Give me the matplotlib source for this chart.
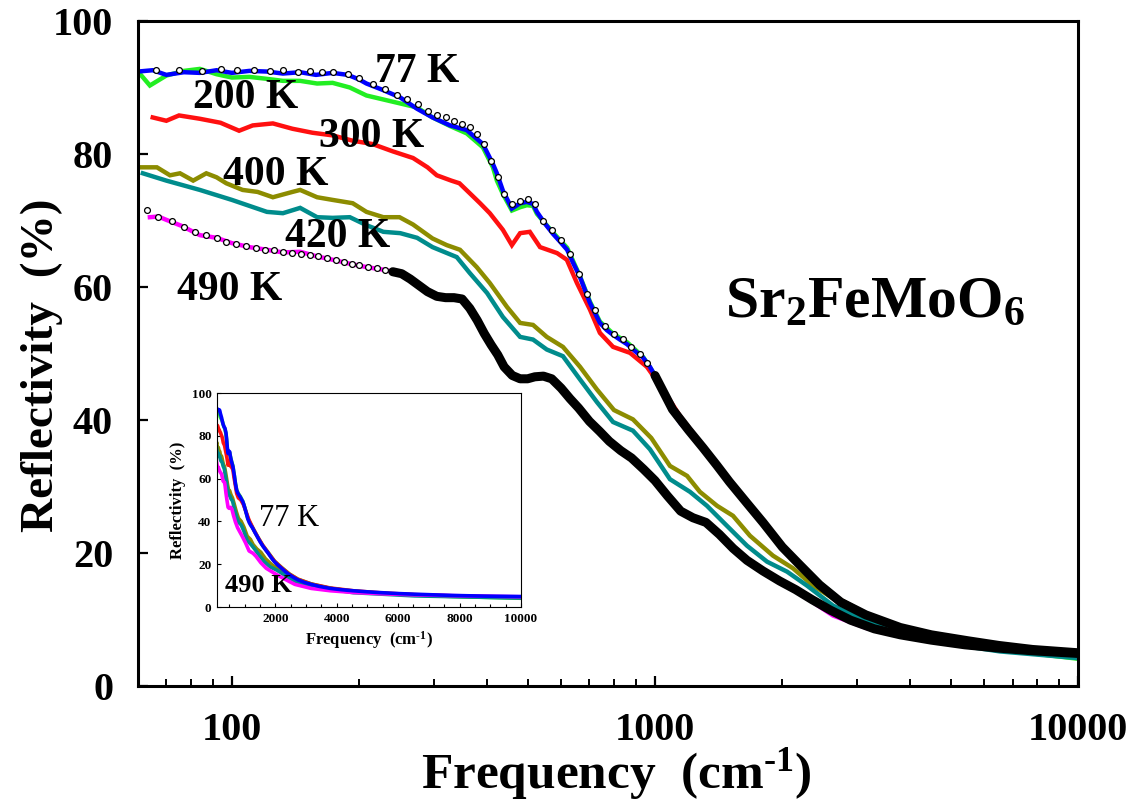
import numpy as np
import matplotlib
matplotlib.use("Agg")
import matplotlib.pyplot as plt
from matplotlib.ticker import FixedLocator, NullFormatter, MultipleLocator

plt.rcParams['font.family'] = ['Liberation Serif', 'DejaVu Serif']
plt.rcParams['font.weight'] = 'bold'
plt.rcParams['axes.labelweight'] = 'bold'
plt.rcParams['mathtext.fontset'] = 'custom'
plt.rcParams['mathtext.rm'] = 'Liberation Serif:bold'
plt.rcParams['mathtext.bf'] = 'Liberation Serif:bold'
plt.rcParams['mathtext.it'] = 'Liberation Serif:bold'
plt.rcParams['mathtext.default'] = 'rm'

# measured reflectivity, frequency in cm-1, R in %
f_77 = [60, 65, 70, 77, 84, 92, 100, 110, 121, 132, 145, 158, 173, 188, 200, 208, 228, 250, 274, 298,
        328, 359, 392, 414, 423, 437, 459, 480, 498, 515, 526, 550, 574, 597, 620, 642, 665, 702, 741,
        770, 796, 826, 859, 900, 937, 973, 1011, 1060, 1104, 1150, 1200, 1257, 1330, 1425, 1500, 1589,
        1680, 1771, 1870, 1976, 2090, 2203, 2330, 2456, 2600, 2737, 2950, 3168, 3450, 3793, 4150, 4540,
        5000, 5465, 6000, 6540, 7150, 7830, 8800, 10000]
r_77 = [92.4, 92.6, 91.9, 92.3, 92.2, 92.6, 92.2, 92.5, 92.4, 92.1, 92.3, 91.9, 92.2, 91.9, 91.2, 90.6,
        89.6, 88.5, 86.8, 85.5, 84.3, 83.6, 81.5, 78.5, 77.1, 74.5, 71.8, 72.6, 72.8, 72.5, 71.3, 69.5,
        68.0, 66.8, 65.6, 63.5, 61.5, 57.6, 54.6, 53.5, 52.8, 52.1, 51.4, 50.3, 49.4, 48.0, 46.1, 43.5,
        41.2, 39.5, 38.2, 37.0, 35.0, 32.6, 30.6, 28.6, 26.8, 25.1, 23.0, 21.1, 19.5, 18.1, 16.5, 15.1,
        13.8, 12.7, 11.5, 10.6, 9.6, 8.7, 8.1, 7.6, 7.1, 6.7, 6.3, 6.0, 5.7, 5.4, 5.1, 4.9]

f_200 = [60, 64, 70, 77, 84, 92, 100, 110, 121, 132, 145, 159, 173, 190, 208, 228, 250, 274, 298, 328,
         359, 392, 414, 423, 437, 459, 480, 498, 515, 526, 574, 620, 665, 702, 741, 796, 859, 937, 1011,
         1104, 1257, 1425, 1589, 1771, 1976, 2203, 2456, 2737, 3168, 3793, 4540, 5465, 6540, 7830, 10000]
r_200 = [92.4, 90.3, 91.8, 92.5, 92.8, 92.0, 91.5, 91.6, 91.3, 91.0, 91.0, 90.6, 90.7, 90.0, 88.8, 88.2,
         87.6, 87.0, 85.5, 84.2, 83.1, 81.0, 78.0, 76.0, 74.0, 71.5, 72.0, 72.3, 72.2, 71.0, 68.2, 65.9,
         61.6, 57.8, 54.8, 53.0, 51.7, 49.5, 46.3, 41.4, 37.2, 32.8, 28.8, 25.4, 21.4, 18.5, 15.5, 13.0,
         10.8, 8.7, 7.4, 6.4, 5.6, 4.9, 4.1]

f_300 = [65, 70, 75, 84, 94, 104, 112, 125, 139, 155, 173, 193, 215, 240, 268, 290, 305, 330, 345, 365,
         386, 407, 437, 459, 480, 506, 535, 587, 619, 654, 702, 741, 796, 873, 957, 1044, 1146, 1277,
         1425, 1589, 1771, 1976, 2203, 2456, 2737, 3168, 3793, 4540, 5465, 6540, 7830, 10000]
r_300 = [85.5, 85.0, 85.8, 85.3, 84.7, 83.5, 84.3, 84.6, 83.8, 83.2, 82.8, 82.0, 81.5, 80.4, 79.4, 78.0,
         76.8, 76.0, 75.6, 74.1, 72.6, 71.1, 68.6, 66.3, 68.1, 68.3, 66.0, 65.1, 64.1, 60.6, 56.6, 53.1,
         51.0, 50.1, 48.0, 44.6, 40.6, 36.7, 32.8, 28.9, 25.3, 21.4, 18.4, 15.4, 13.0, 10.8, 8.9, 7.6,
         6.6, 5.8, 5.2, 4.5]

f_400 = [61, 66.5, 71.4, 75.4, 81, 87, 92, 97, 106, 115, 125, 139, 145, 159, 173, 193, 208, 228, 249,
         268, 298, 322, 346, 379, 407, 447, 480, 515, 555, 606, 665, 729, 800, 887, 980, 1085, 1191,
         1277, 1402, 1529, 1677, 1901, 2120, 2363, 2635, 3000, 3500, 4200, 5000, 6000, 7500, 10000]
r_400 = [78.0, 78.0, 76.8, 77.1, 76.0, 77.1, 76.5, 75.6, 74.6, 74.3, 73.5, 74.3, 74.6, 73.5, 73.1, 72.6,
         71.3, 70.5, 70.5, 69.4, 67.3, 66.3, 65.6, 63.0, 60.6, 57.0, 54.6, 54.3, 52.5, 51.0, 48.0, 44.6,
         41.5, 40.1, 37.3, 33.1, 31.6, 29.2, 27.1, 25.6, 22.6, 19.6, 17.7, 15.1, 13.2, 11.2, 9.4, 7.8,
         6.8, 6.0, 5.2, 4.4]

f_420 = [61.6, 70, 84, 100, 121, 132, 145, 159, 173, 190, 208, 228, 250, 274, 298, 340, 365, 401, 437,
         480, 515, 555, 606, 665, 729, 796, 887, 973, 1085, 1210, 1327, 1479, 1650, 1840, 2052, 2287,
         2635, 3168, 4540, 6540, 10000]
r_420 = [77.1, 76.0, 74.6, 73.1, 71.3, 71.1, 71.9, 70.5, 70.4, 70.5, 69.3, 68.3, 68.1, 67.4, 66.0, 64.5,
         62.1, 59.1, 55.5, 52.5, 52.1, 50.6, 49.6, 46.1, 42.7, 39.7, 38.4, 35.6, 31.1, 29.2, 27.1, 24.1,
         21.1, 18.7, 17.2, 15.1, 12.1, 9.7, 6.7, 5.2, 4.2]

f_490 = [64, 67, 70, 76, 84, 92, 100, 110, 121, 132, 145, 159, 173, 190, 208, 228, 250, 274, 298, 327,
         346, 365, 392, 423, 461, 498, 544, 587, 640, 702, 770, 826, 921, 1027, 1146, 1277, 1371, 1529,
         1705, 1976, 2287, 2635, 3168, 3793, 4540, 5465, 6540, 7830, 10000]
r_490 = [70.5, 70.6, 70.1, 69.2, 67.8, 67.4, 66.6, 66.0, 65.6, 65.2, 65.3, 64.6, 64.1, 63.5, 63.0, 62.6,
         62.1, 60.6, 58.9, 58.5, 58.3, 56.6, 53.3, 50.1, 46.6, 46.1, 46.6, 45.7, 42.7, 39.7, 37.1, 35.6,
         33.1, 30.1, 26.2, 25.1, 23.7, 20.7, 18.1, 15.7, 13.2, 10.6, 8.7, 7.6, 6.8, 6.2, 5.7, 5.3, 4.8]

# model fits (open symbols)
f_fit77 = [66, 75, 85, 94, 103, 113, 123, 132, 143, 153, 163, 173, 188, 200, 215, 230, 245, 260, 275, 290,
           305, 320, 335, 350, 365, 380, 395, 410, 425, 440, 460, 480, 500, 520, 545, 570, 600, 630, 660,
           690, 720, 760, 800, 840, 880, 920, 960, 1000, 1100, 1200, 1300, 1400, 1500, 1650, 1800, 2000,
           2200, 2450, 2750, 3150, 3800, 4500, 5500, 6500, 7800, 10000]
r_fit77 = [92.6, 92.7, 92.5, 92.8, 92.6, 92.7, 92.5, 92.6, 92.4, 92.5, 92.4, 92.3, 92.0, 91.4, 90.6, 89.8,
           88.9, 88.2, 87.5, 86.5, 85.8, 85.6, 85.0, 84.5, 84.0, 83.0, 81.5, 79.0, 76.5, 74.0, 72.5, 73.0,
           73.2, 72.5, 70.0, 68.5, 67.0, 65.0, 62.0, 59.0, 56.5, 54.2, 53.0, 52.2, 51.0, 50.0, 48.5, 46.7,
           41.6, 38.5, 35.8, 33.2, 30.7, 27.5, 24.6, 20.9, 18.2, 15.2, 12.6, 10.7, 8.8, 7.7, 6.8, 6.1,
           5.5, 5.0]

f_fit490 = [63, 67, 72, 77, 82, 87, 92, 97, 102, 108, 114, 120, 126, 132, 139, 146, 153, 160, 168, 176,
            184, 192, 200, 210, 220, 230, 240, 252, 264, 276, 290, 305, 320, 335, 350, 365, 380, 395, 410,
            425, 440, 460, 480, 500, 520, 545, 570, 600, 630, 660, 700, 740, 780, 830, 880, 940, 1000,
            1070, 1150, 1230, 1320, 1420, 1530, 1650, 1800, 1970, 2150, 2350, 2600, 2900, 3300, 3800,
            4500, 5400, 6500, 7800, 10000]
r_fit490 = [71.6, 70.6, 70.0, 69.0, 68.3, 67.8, 67.3, 66.8, 66.5, 66.1, 65.9, 65.6, 65.5, 65.3, 65.1, 65.0,
            64.8, 64.6, 64.3, 64.0, 63.7, 63.5, 63.3, 63.0, 62.8, 62.6, 62.3, 62.0, 61.2, 60.3, 59.3, 58.6,
            58.4, 58.4, 58.2, 56.8, 55.0, 53.0, 51.3, 49.8, 48.0, 46.7, 46.2, 46.2, 46.5, 46.6, 46.2, 44.8,
            43.2, 41.8, 39.8, 38.3, 36.8, 35.4, 34.3, 32.6, 30.9, 28.6, 26.3, 25.3, 24.6, 22.8, 20.7, 18.9,
            17.3, 15.8, 14.5, 13.0, 11.4, 9.9, 8.6, 7.7, 6.9, 6.2, 5.7, 5.3, 4.9]

series = [
    (f_200, r_200, '#22ee22'),
    (f_300, r_300, '#ff1010'),
    (f_400, r_400, '#8c8c00'),
    (f_420, r_420, '#008c8c'),
    (f_490, r_490, '#ff00ff'),
    (f_77, r_77, '#0000ff'),
]

fig = plt.figure(figsize=(11.36, 8.02), dpi=100)
ax = fig.add_axes([0.1215, 0.1446, 0.8275, 0.8292])

for f, r, c in series:
    ax.plot(f, r, color=c, lw=3.2, solid_joinstyle='miter')

# fits: open symbols where sparse, a solid black band where the points crowd together
for ff, rf, start in [(f_fit77, r_fit77, 1000), (f_fit490, r_fit490, 240)]:
    ff = np.array(ff)
    rf = np.array(rf)
    ax.plot(ff[ff < start + 1], rf[ff < start + 1], ls='none', marker='o', ms=4.2,
            mfc='white', mec='black', mew=0.9)
    ax.plot(ff[ff >= start], rf[ff >= start], color='black', lw=6.5, solid_capstyle='round')

ax.set_xscale('log')
ax.set_xlim(60, 10000)
ax.set_ylim(0, 100)
ax.xaxis.set_major_locator(FixedLocator([100, 1000, 10000]))
ax.set_xticklabels(['100', '1000', '10000'])
ax.xaxis.set_minor_locator(FixedLocator([70, 80, 90, 200, 300, 400, 500, 600, 700, 800, 900,
                                         2000, 3000, 4000, 5000, 6000, 7000, 8000, 9000]))
ax.xaxis.set_minor_formatter(NullFormatter())
ax.set_yticks([0, 20, 40, 60, 80, 100])
ax.tick_params(which='major', direction='in', length=7, width=1.6, labelsize=29, pad=19)
ax.tick_params(which='minor', direction='in', length=5, width=1.4)
ax.tick_params(axis='y', pad=18)
for s in ax.spines.values():
    s.set_linewidth(2.2)

fig.text(0.037, 0.545, 'Reflectivity  (%)', rotation=90, ha='center', va='center', fontsize=34)
fig.text(0.543, 0.035, 'Frequency  (cm$^{\u2010 1}$)', ha='center', va='center', fontsize=37)

labels = [('77 K', 0.297, 0.908), ('200 K', 0.114, 0.869), ('300 K', 0.249, 0.811),
          ('400 K', 0.146, 0.753), ('420 K', 0.212, 0.660), ('490 K', 0.097, 0.580)]
for txt, x, y in labels:
    ax.text(x, y, txt, transform=ax.transAxes, ha='center', va='baseline', fontsize=30)
ax.text(0.784, 0.555, 'Sr$_2$FeMoO$_6$', transform=ax.transAxes, ha='center', va='baseline',
        fontsize=43)

# inset on a linear frequency axis
ins = fig.add_axes([0.191, 0.2431, 0.2676, 0.2668])
for f, r, c in series:
    ins.plot(f, r, color=c, lw=2.6)
ins.set_xlim(100, 10000)
ins.set_ylim(0, 100)
ins.set_xticks([2000, 4000, 6000, 8000, 10000])
ins.xaxis.set_minor_locator(MultipleLocator(500))
ins.set_yticks([0, 20, 40, 60, 80, 100])
ins.tick_params(which='major', direction='in', length=3, width=0.8, labelsize=9.5, pad=4)
ins.tick_params(which='minor', direction='in', length=2, width=0.8)
for s in ins.spines.values():
    s.set_linewidth(0.8)
ins.set_xlabel('Frequency  (cm$^{\u2010 1}$)', fontsize=12, labelpad=3)
ins.set_ylabel('Reflectivity  (%)', fontsize=12, labelpad=4)
ins.text(0.237, 0.379, '77 K', transform=ins.transAxes, ha='center', va='baseline', fontsize=22,
         fontweight='normal')
ins.text(0.138, 0.070, '490 K', transform=ins.transAxes, ha='center', va='baseline', fontsize=19)

fig.savefig('out.png', dpi=100)
